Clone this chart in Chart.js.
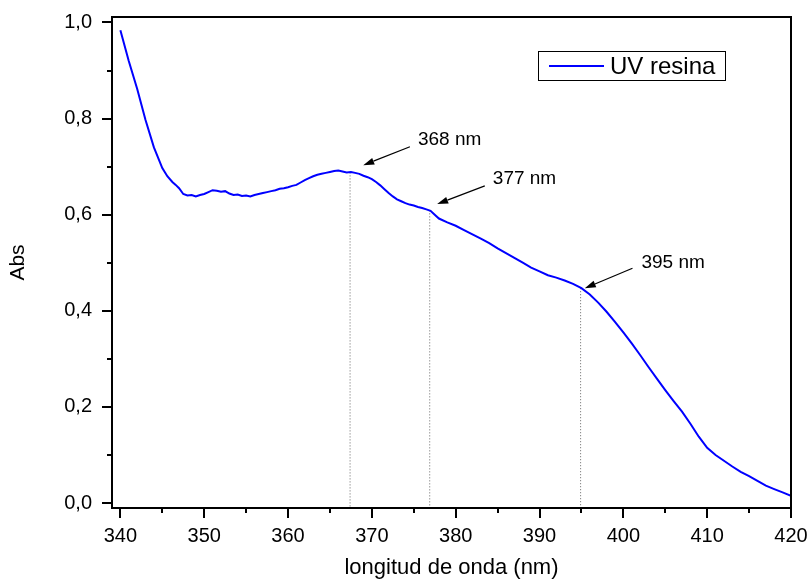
<!DOCTYPE html>
<html><head><meta charset="utf-8">
<script src="https://cdn.jsdelivr.net/npm/chart.js@4/dist/chart.umd.min.js"></script>
<style>html,body{margin:0;padding:0;background:#fff}#wrap{width:808px;height:582px}</style>
</head><body><div id="wrap"><canvas id="c" width="808" height="582"></canvas></div>
<script>
const wavelength = [340,341,342,343,344,345,345.6,346.2,346.6,347,347.5,348,348.5,349,349.5,350,350.5,351,351.5,352,352.5,353,353.5,354,354.5,355,355.5,356,356.5,357,357.5,358,358.5,359,359.5,360,360.5,361,361.5,362,362.5,363,363.5,364,364.5,365,365.5,366,366.5,367,367.5,368,368.5,369,369.5,370,370.5,371,371.5,372,372.5,373,373.5,374,374.5,375,375.5,376,376.5,377,377.5,378,379,380,381,382,383,384,385,386,387,388,389,390,391,392,393,394,395,396,397,398,399,400,401,402,403,404,405,406,407,408,409,410,411,412,413,414,415,416,417,418,419,420];
const absorbance = [0.984,0.92,0.862,0.797,0.740,0.697,0.680,0.668,0.662,0.655,0.643,0.640,0.641,0.638,0.641,0.643,0.647,0.651,0.650,0.648,0.649,0.644,0.641,0.642,0.639,0.640,0.638,0.641,0.643,0.645,0.647,0.649,0.651,0.654,0.655,0.657,0.660,0.662,0.667,0.672,0.676,0.680,0.683,0.685,0.687,0.689,0.691,0.692,0.690,0.688,0.689,0.687,0.685,0.681,0.678,0.674,0.668,0.661,0.653,0.645,0.638,0.632,0.628,0.624,0.621,0.619,0.616,0.614,0.611,0.608,0.600,0.592,0.584,0.577,0.568,0.559,0.550,0.541,0.530,0.520,0.510,0.500,0.490,0.482,0.474,0.469,0.463,0.456,0.447,0.434,0.417,0.398,0.377,0.355,0.332,0.308,0.283,0.259,0.235,0.212,0.190,0.165,0.138,0.115,0.100,0.088,0.076,0.065,0.056,0.046,0.036,0.029,0.022,0.015];
const xTickValues = [340,350,360,370,380,390,400,410,420];
const xMinorTickValues = [345,355,365,375,385,395,405,415];
const yTickValues = [0,0.2,0.4,0.6,0.8,1.0];
const yMinorTickValues = [0.1,0.3,0.5,0.7,0.9];
const seriesName = 'UV resina';
const peakLabels = ['368 nm','377 nm','395 nm'];
const peakWavelengths = [367.4,376.9,394.9];
const peakAbsorbance = [0.688,0.609,0.447];
const arrowHeadX = [368.97,377.79,395.40];
const arrowHeadY = [0.703,0.622,0.447];
const arrowTailX = [374.54,383.47,401.09];
const arrowTailY = [0.7415,0.660,0.4885];
const labelX = [375.5,384.43,402.16];
const labelY = [0.7555,0.674,0.4995];

const FONT = '"Liberation Sans", Arial, sans-serif';
const mainData = wavelength.map((w,i)=>({x:w,y:absorbance[i]}));
const dropSets = peakWavelengths.map((w,i)=>({
  label:'drop'+i,
  data:[{x:w,y:peakAbsorbance[i]},{x:w,y:-0.0104}],
  showLine:true, borderColor:'#666', borderWidth:1, borderDash:[1,2],
  pointRadius:0, fill:false
}));

const decor = {
  id:'decor',
  afterDraw(chart){
    const {ctx, chartArea:a, scales:{x,y}} = chart;
    ctx.save();
    ctx.strokeStyle='#000'; ctx.lineWidth=2;
    ctx.strokeRect(a.left, a.top, a.right-a.left, a.bottom-a.top);
    ctx.beginPath();
    xTickValues.forEach(v=>{const px=Math.round(x.getPixelForValue(v)); ctx.moveTo(px,a.bottom); ctx.lineTo(px,a.bottom+10);});
    xMinorTickValues.forEach(v=>{const px=Math.round(x.getPixelForValue(v)); ctx.moveTo(px,a.bottom); ctx.lineTo(px,a.bottom+5);});
    yTickValues.forEach(v=>{const py=Math.round(y.getPixelForValue(v)); ctx.moveTo(a.left,py); ctx.lineTo(a.left-10,py);});
    yMinorTickValues.forEach(v=>{const py=Math.round(y.getPixelForValue(v)); ctx.moveTo(a.left,py); ctx.lineTo(a.left-5,py);});
    ctx.stroke();
    ctx.lineWidth=1.2; ctx.strokeStyle='#000'; ctx.fillStyle='#000';
    peakLabels.forEach((t,i)=>{
      const hx=x.getPixelForValue(arrowHeadX[i]), hy=y.getPixelForValue(arrowHeadY[i]);
      const tx=x.getPixelForValue(arrowTailX[i]), ty=y.getPixelForValue(arrowTailY[i]);
      const ang=Math.atan2(hy-ty,hx-tx), L=11, W=3.5;
      const bx=hx-L*Math.cos(ang), by=hy-L*Math.sin(ang);
      ctx.beginPath(); ctx.moveTo(tx,ty); ctx.lineTo(bx,by); ctx.stroke();
      ctx.beginPath(); ctx.moveTo(hx,hy);
      ctx.lineTo(bx+W*Math.sin(ang), by-W*Math.cos(ang));
      ctx.lineTo(bx-W*Math.sin(ang), by+W*Math.cos(ang));
      ctx.closePath(); ctx.fill();
      ctx.font='19px '+FONT; ctx.textAlign='left'; ctx.textBaseline='middle';
      ctx.fillText(t, x.getPixelForValue(labelX[i]), y.getPixelForValue(labelY[i]));
    });
    ctx.lineWidth=1; ctx.strokeStyle='#000';
    ctx.strokeRect(538.5,51.5,187,29);
    ctx.strokeStyle='#0000ff'; ctx.lineWidth=2;
    ctx.beginPath(); ctx.moveTo(549,66); ctx.lineTo(604,66); ctx.stroke();
    ctx.fillStyle='#000'; ctx.font='24px '+FONT; ctx.textAlign='left'; ctx.textBaseline='middle';
    ctx.fillText(seriesName, 610, 67);
    ctx.restore();
  }
};

new Chart(document.getElementById('c'), {
  type:'scatter',
  data:{datasets:[
    {label:seriesName, data:mainData, showLine:true, borderColor:'#0000ff', borderWidth:2, pointRadius:0, tension:0, fill:false},
    ...dropSets
  ]},
  options:{
    responsive:false, animation:false, devicePixelRatio:1,
    layout:{padding:{left:0,right:17,top:17,bottom:0}},
    plugins:{legend:{display:false}, tooltip:{enabled:false}},
    scales:{
      x:{type:'linear', min:339, max:420,
        afterBuildTicks:s=>{s.ticks=xTickValues.map(v=>({value:v}));},
        afterFit:s=>{s.height=74; s.paddingLeft=0; s.paddingRight=0;},
        grid:{display:false}, border:{display:false},
        ticks:{color:'#000', font:{family:FONT,size:20}, padding:8, maxRotation:0, autoSkip:false, callback:v=>String(v)},
        title:{display:true, text:'longitud de onda (nm)', color:'#000', font:{family:FONT,size:22}, padding:{top:0,bottom:1}}
      },
      y:{type:'linear', min:-0.0104, max:1.0114,
        afterBuildTicks:s=>{s.ticks=yTickValues.map(v=>({value:v}));},
        afterFit:s=>{s.width=112; s.paddingTop=0; s.paddingBottom=0;},
        grid:{display:false}, border:{display:false},
        ticks:{color:'#000', font:{family:FONT,size:20}, padding:12, autoSkip:false, callback:v=>v.toFixed(1).replace('.',',')},
        title:{display:true, text:'Abs', color:'#000', font:{family:FONT,size:21}, padding:{top:6,bottom:0}}
      }
    }
  },
  plugins:[decor]
});
</script></body></html>
